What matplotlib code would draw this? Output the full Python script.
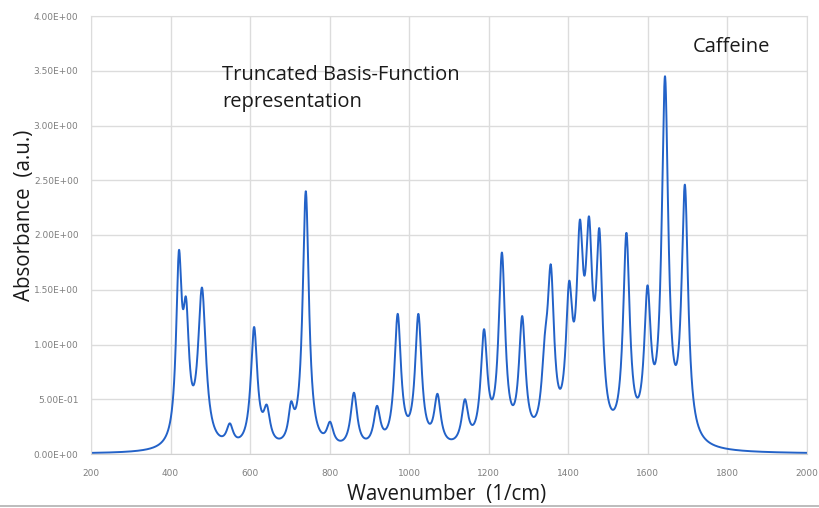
import numpy as np
import matplotlib
matplotlib.use("Agg")
import matplotlib.pyplot as plt
from matplotlib.lines import Line2D

# Band centres (1/cm) and absorbance at each band maximum
peak_centers = [421, 439, 479, 549, 610, 642, 703, 740, 801, 861, 919, 971, 1023,
                1071, 1140, 1188, 1233, 1284, 1341, 1356, 1402, 1429, 1452, 1478,
                1546, 1599, 1643, 1693]
peak_heights = [1.86, 1.43, 1.52, 0.28, 1.16, 0.45, 0.48, 2.40, 0.295, 0.56, 0.44, 1.28, 1.28,
                0.55, 0.50, 1.14, 1.84, 1.26, 1.10, 1.73, 1.58, 2.14, 2.17, 2.06,
                2.02, 1.54, 3.45, 2.46]
# Lorentzian half widths (1/cm) of the basis functions
peak_hwhm = [8.5, 9, 12, 10, 10, 10, 8, 9.5, 10, 10, 10, 10, 10,
             10, 10, 10, 10, 10, 10, 10, 10, 10, 10, 9.5,
             10, 10, 10, 10]

x_ticks = [200, 400, 600, 800, 1000, 1200, 1400, 1600, 1800, 2000]
y_ticks = [0.0, 0.5, 1.0, 1.5, 2.0, 2.5, 3.0, 3.5, 4.0]

c = np.array(peak_centers, float)
h = np.array(peak_heights, float)
g = np.array(peak_hwhm, float)


def basis(x):
    x = np.asarray(x, float)[:, None]
    return g**2 / ((x - c)**2 + g**2)


# Solve for Lorentzian amplitudes so the summed curve reaches each band maximum
amps = np.linalg.solve(basis(c), h)
wn = np.linspace(200, 2000, 4000)
absorb = basis(wn) @ amps

W, H = 820, 508
fig = plt.figure(figsize=(W / 100, H / 100), dpi=100)
ax = fig.add_axes([91 / W, 1 - 454 / H, (807 - 91) / W, (454 - 16) / H])

ax.plot(wn, absorb, color="#2362c8", lw=1.4, solid_joinstyle="round")
ax.set_xlim(200, 2000)
ax.set_ylim(0, 4.0)
ax.set_xticks(x_ticks)
ax.set_yticks(y_ticks)
ax.set_xticklabels([str(t) for t in x_ticks])
ax.set_yticklabels([f"{v:.2E}" for v in y_ticks])
ax.tick_params(axis="y", length=0, labelsize=6.5, colors="#7f7f7f", pad=9)
ax.tick_params(axis="x", length=0, labelsize=6.5, colors="#7f7f7f", pad=11)
ax.grid(True, color="#dcdcdc", lw=1.0)
ax.set_axisbelow(True)
for side in ["left", "top", "right"]:
    ax.spines[side].set_color("#dcdcdc")
ax.spines["bottom"].set_color("#d0d0d0")

font = "Open Sans"
ink = "#1a1a1a"


def fy(py):
    return 1 - py / H


fig.text(446.5 / W, fy(500), "Wavenumber  (1/cm)", fontsize=14.8, family=font,
         color=ink, ha="center", va="baseline")
fig.text(25 / W, fy(215), "Absorbance  (a.u.)", fontsize=14.8, family=font,
         color=ink, ha="center", va="center", rotation=90)

fig.text(222 / W, fy(80), "Truncated Basis-Function", fontsize=14.5, family=font,
         color=ink, ha="left", va="baseline")
fig.text(222 / W, fy(107), "representation", fontsize=14.5, family=font,
         color=ink, ha="left", va="baseline")
fig.text(693 / W, fy(52), "Caffeine", fontsize=14.5, family=font,
         color=ink, ha="left", va="baseline")

fig.add_artist(Line2D([0, 1], [fy(506), fy(506)], transform=fig.transFigure,
                      color="#b0b0b0", lw=1.2))

fig.savefig("out.png", dpi=100)
